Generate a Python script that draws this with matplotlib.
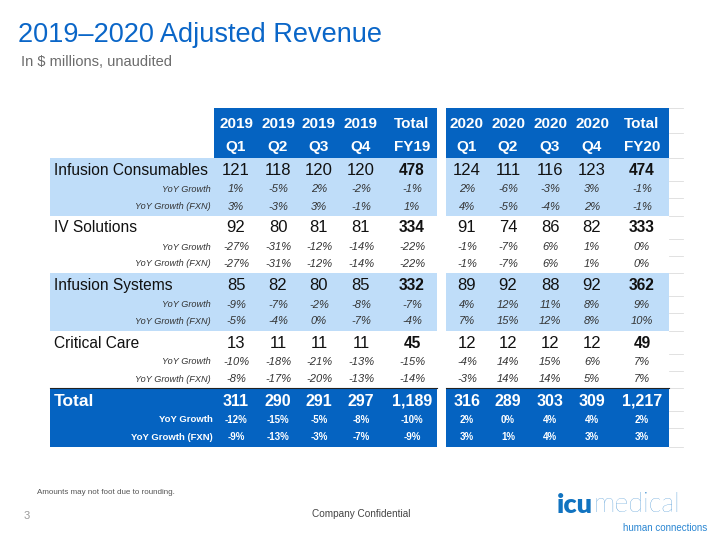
"""Slide recreation: 2019-2020 adjusted revenue table."""

import matplotlib

matplotlib.use("Agg")
import matplotlib.pyplot as plt
from matplotlib.patches import Rectangle

FONT = "Liberation Sans"

# ── Data (in $ millions) ──
col_years = ["2019", "2019", "2019", "2019", "Total", "2020", "2020", "2020", "2020", "Total"]
col_periods = ["Q1", "Q2", "Q3", "Q4", "FY19", "Q1", "Q2", "Q3", "Q4", "FY20"]

segments = ["Infusion Consumables", "IV Solutions", "Infusion Systems", "Critical Care"]
revenue = [
    [121, 118, 120, 120, 478, 124, 111, 116, 123, 474],
    [92, 80, 81, 81, 334, 91, 74, 86, 82, 333],
    [85, 82, 80, 85, 332, 89, 92, 88, 92, 362],
    [13, 11, 11, 11, 45, 12, 12, 12, 12, 49],
]
yoy_growth = [
    [1, -5, 2, -2, -1, 2, -6, -3, 3, -1],
    [-27, -31, -12, -14, -22, -1, -7, 6, 1, 0],
    [-9, -7, -2, -8, -7, 4, 12, 11, 8, 9],
    [-10, -18, -21, -13, -15, -4, 14, 15, 6, 7],
]
yoy_growth_fxn = [
    [3, -3, 3, -1, 1, 4, -5, -4, 2, -1],
    [-27, -31, -12, -14, -22, -1, -7, 6, 1, 0],
    [-5, -4, 0, -7, -4, 7, 15, 12, 8, 10],
    [-8, -17, -20, -13, -14, -3, 14, 14, 5, 7],
]
total_revenue = [311, 290, 291, 297, 1189, 316, 289, 303, 309, 1217]
total_yoy = [-12, -15, -5, -8, -10, 2, 0, 4, 4, 2]
total_yoy_fxn = [-9, -13, -3, -7, -9, 3, 1, 4, 3, 3]

# ── Layout (pixel coordinates, origin top-left) ──
COL_X = [236, 278, 319, 361, 412, 467, 508, 550, 592, 642]
TOTAL_COLS = (4, 9)
LEFT_BLOCK = (50, 437)
RIGHT_BLOCK = (446, 669)
HEAD_TOP, HEAD_BOT = 108, 158
GROUP_H = 57.5
LABEL_X = 54
SUB_X = 211

BLUE = "#0563C1"
LIGHT = "#BFDDF9"
TITLE_BLUE = "#0A66C8"
INK = "#111111"
SUBINK = "#333333"

fig = plt.figure(figsize=(7.2, 5.4), dpi=100, facecolor="white")
ax = fig.add_axes([0, 0, 1, 1])
ax.set_xlim(0, 720)
ax.set_ylim(540, 0)
ax.axis("off")


def band(y0, h, color, x_left=LEFT_BLOCK[0]):
    ax.add_patch(Rectangle((x_left, y0), LEFT_BLOCK[1] - x_left, h, fc=color, ec="none", zorder=1))
    ax.add_patch(Rectangle((RIGHT_BLOCK[0], y0), RIGHT_BLOCK[1] - RIGHT_BLOCK[0], h,
                           fc=color, ec="none", zorder=1))


def pct(v):
    return f"{v}%"


# Title
ax.text(18, 35, "2019\u20132020 Adjusted Revenue", family=FONT, fontsize=19.5,
        color=TITLE_BLUE, ha="left", va="center")
ax.text(21, 62, "In $ millions, unaudited", family=FONT, fontsize=10.5,
        color="#6b6b6b", ha="left", va="center")

# Header
band(HEAD_TOP, HEAD_BOT - HEAD_TOP, BLUE, x_left=214)
for x, yr, per in zip(COL_X, col_years, col_periods):
    ax.text(x, 124, yr, family=FONT, fontsize=11, fontweight="bold", color="white",
            ha="center", va="center", zorder=3)
    ax.text(x, 147, per, family=FONT, fontsize=11, fontweight="bold", color="white",
            ha="center", va="center", zorder=3)

# Segment groups
for i, name in enumerate(segments):
    top = HEAD_BOT + i * GROUP_H
    if i % 2 == 0:
        band(top, GROUP_H, LIGHT)
    y_main, y_yoy, y_fxn = top + 12.5, top + 31.5, top + 48.5
    ax.text(LABEL_X, y_main, name, family=FONT, fontsize=11.2, color=INK,
            ha="left", va="center", zorder=3)
    ax.text(SUB_X, y_yoy, "YoY Growth", family=FONT, fontsize=6.6, style="italic",
            color=SUBINK, ha="right", va="center", zorder=3)
    ax.text(SUB_X, y_fxn, "YoY Growth (FXN)", family=FONT, fontsize=6.6, style="italic",
            color=SUBINK, ha="right", va="center", zorder=3)
    for j, x in enumerate(COL_X):
        is_total = j in TOTAL_COLS
        ax.text(x, y_main, f"{revenue[i][j]:,}", family=FONT,
                fontsize=11.2 if is_total else 12,
                fontweight="bold" if is_total else "normal",
                color=INK, ha="center", va="center", zorder=3)
        ax.text(x, y_yoy, pct(yoy_growth[i][j]), family=FONT, fontsize=8,
                style="italic", color=SUBINK, ha="center", va="center", zorder=3)
        ax.text(x, y_fxn, pct(yoy_growth_fxn[i][j]), family=FONT, fontsize=8,
                style="italic", color=SUBINK, ha="center", va="center", zorder=3)

# Total group
top = HEAD_BOT + 4 * GROUP_H
band(top, 59, BLUE)
for x0, x1 in (LEFT_BLOCK, RIGHT_BLOCK):
    ax.plot([x0, x1], [top, top], color="#222222", lw=0.8, zorder=2)
y_main, y_yoy, y_fxn = top + 13, top + 32, top + 49
ax.text(LABEL_X, y_main, "Total", family=FONT, fontsize=12.5, fontweight="bold",
        color="white", ha="left", va="center", zorder=3)
ax.text(SUB_X + 2, y_yoy, "YoY Growth", family=FONT, fontsize=6.8, fontweight="bold",
        color="white", ha="right", va="center", zorder=3)
ax.text(SUB_X + 2, y_fxn, "YoY Growth (FXN)", family=FONT, fontsize=6.8, fontweight="bold",
        color="white", ha="right", va="center", zorder=3)
for j, x in enumerate(COL_X):
    ax.text(x, y_main, f"{total_revenue[j]:,}", family=FONT, fontsize=11.5,
            fontweight="bold", color="white", ha="center", va="center", zorder=3)
    ax.text(x, y_yoy, pct(total_yoy[j]), family=FONT, fontsize=7,
            fontweight="bold", color="white", ha="center", va="center", zorder=3)
    ax.text(x, y_fxn, pct(total_yoy_fxn[j]), family=FONT, fontsize=7,
            fontweight="bold", color="white", ha="center", va="center", zorder=3)

# faint cell borders peeking out on the right
edges = [HEAD_TOP, 133, HEAD_BOT]
for i in range(5):
    t = HEAD_BOT + i * GROUP_H
    edges += [t + 23, t + 40]
    edges.append(t + GROUP_H if i < 4 else t + 59)
for y in edges:
    ax.plot([RIGHT_BLOCK[1], RIGHT_BLOCK[1] + 14], [y, y], color="#dcdcdc", lw=0.6, zorder=0)

# Footer
ax.text(37, 493, "Amounts may not foot due to rounding.", family=FONT, fontsize=5.8,
        color="#555555", ha="left", va="center")
ax.text(27, 516, "3", family=FONT, fontsize=8, color="#9a9a9a", ha="center", va="center")
ax.text(361, 514, "Company Confidential", family=FONT, fontsize=7.2, color="#444444",
        ha="center", va="center")

# Logo
icu = ax.text(557, 513, "icu", family="Lato", fontsize=19.5, fontweight="heavy",
              color="#1173C0", ha="left", va="baseline")
ax.annotate("medical", xy=(1, 0), xycoords=icu, family="Lato", fontsize=19.5,
            fontweight="light", color="#2B84CC", ha="left", va="bottom")
ax.text(707, 528, "human connections", family=FONT, fontsize=7, color="#2A86D2",
        ha="right", va="center")

fig.savefig("out.png", dpi=100, facecolor="white")
